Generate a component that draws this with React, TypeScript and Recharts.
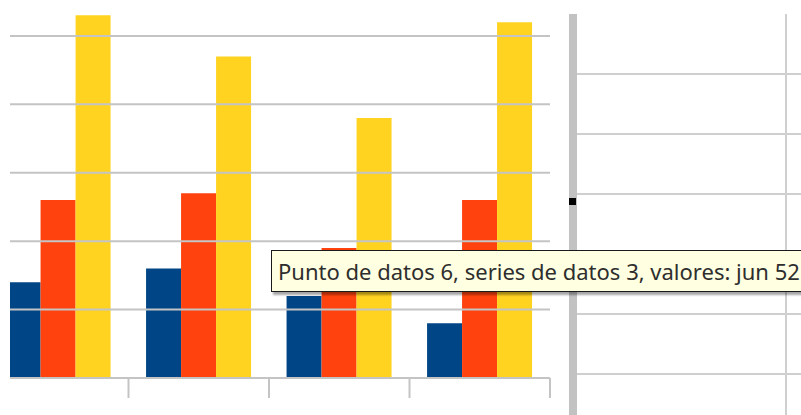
import React from "react";
import { BarChart, Bar, XAxis, YAxis, ReferenceLine } from "recharts";

const months = ["mar", "abr", "may", "jun"];
const serie1 = [14, 16, 12, 8];
const serie2 = [26, 27, 19, 26];
const serie3 = [53, 47, 38, 52];
const valueTicks = [0, 10, 20, 30, 40, 50];

const data = months.map((m, i) => ({
  mes: m,
  s1: serie1[i],
  s2: serie2[i],
  s3: serie3[i],
}));

const GRAY = "#c4c4c4";
const sheetRows = [73, 133, 193, 253, 313, 373];

// tick line on the category boundary instead of the centre
const BoundaryTick = (props: any) => {
  const { x, y, payload } = props;
  const half = payload && payload.offset ? payload.offset : 70.3;
  const bx = x + half;
  return <line x1={bx} y1={y - 8} x2={bx} y2={y + 12} stroke={GRAY} strokeWidth={2} />;
};

const NoLabel = () => <g />;

const App = () => {
  return (
    <div
      style={{
        position: "fixed",
        left: 0,
        top: 0,
        width: 801,
        height: 415,
        overflow: "hidden",
        background: "#fff",
      }}
    >
      {/* hoja de cálculo detrás */}
      {sheetRows.map((y) => (
        <div
          key={y}
          style={{ position: "absolute", left: 577, top: y, width: 230, height: 1.5, background: "#cfcfcf" }}
        />
      ))}
      <div style={{ position: "absolute", left: 785, top: 14, width: 1.5, height: 410, background: "#cfcfcf" }} />

      {/* marco del gráfico */}
      <div style={{ position: "absolute", left: 569, top: 14, width: 8, height: 410, background: "#c2c2c2" }} />
      <div style={{ position: "absolute", left: 569, top: 198, width: 7, height: 7, background: "#000" }} />

      <div style={{ position: "absolute", left: 10, top: 0, width: 545, height: 415, overflow: "hidden" }}>
        <div style={{ position: "absolute", left: -22, top: 0 }}>
          <BarChart
            width={567}
            height={415}
            data={data}
            margin={{ top: 14, right: 5, left: 0, bottom: 17 }}
            barCategoryGap="12.5%"
            barGap={0}
          >
            {valueTicks.map((v) => (
              <ReferenceLine key={v} y={v} yAxisId="v" stroke={GRAY} strokeWidth={2} />
            ))}
            <XAxis
              dataKey="mes"
              height={20}
              stroke={GRAY}
              strokeWidth={2}
              tickLine={false}
              tick={<BoundaryTick />}
              interval={0}
            />
            <YAxis
              yAxisId="v"
              orientation="right"
              width={0}
              domain={[0, 53.2]}
              ticks={valueTicks}
              interval={0}
              tick={<NoLabel />}
              tickLine={false}
              axisLine={{ stroke: "#d6d6d6", strokeWidth: 2 }}
            />
            <Bar yAxisId="v" dataKey="s1" fill="#004586" isAnimationActive={false} />
            <Bar yAxisId="v" dataKey="s2" fill="#ff420e" isAnimationActive={false} />
            <Bar yAxisId="v" dataKey="s3" fill="#ffd320" isAnimationActive={false} />
          </BarChart>
        </div>
      </div>

      {/* información emergente */}
      <div
        style={{
          position: "absolute",
          left: 271,
          top: 250,
          width: 560,
          height: 40,
          background: "#ffffe1",
          border: "1px solid #1a1a1a",
          boxShadow: "2px 3px 2px rgba(0,0,0,0.35)",
          fontFamily: "'Noto Sans', sans-serif",
          fontSize: 22,
          color: "#2e2e2e",
          lineHeight: "40px",
          paddingLeft: 6,
          whiteSpace: "nowrap",
        }}
      >
        Punto de datos 6, series de datos 3, valores: jun 52
      </div>
    </div>
  );
};

export default App;
